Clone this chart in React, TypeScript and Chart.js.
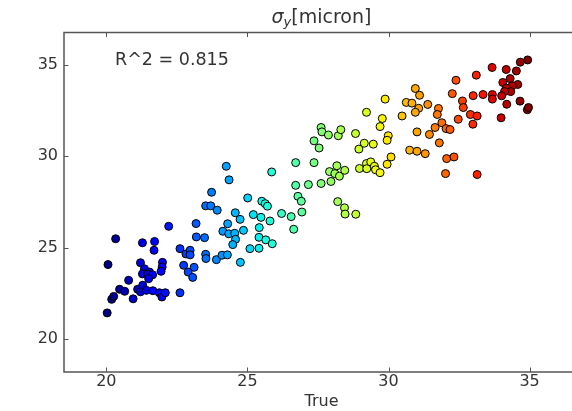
import React, { useEffect, useRef } from 'react';
import { Chart, registerables } from 'chart.js';

Chart.register(...registerables);

// True (x) values, grouped by colour band
const trueValues: number[] = [
  20.03, 20.19, 20.26, 20.47, 20.65, 20.79, 20.95, 21.11, 21.29, 21.21,
  21.42, 21.65, 21.88, 21.97, 22.09, 22.61, 20.06, 21.21, 21.99, 21.98,
  21.94, 21.35, 21.53, 21.28, 21.47, 21.64, 21.5, 22.74, 23.11, 22.9,
  23.06, 20.33, 21.28, 21.71, 21.69, 22.61, 22.82, 22.97, 22.97, 23.52,
  23.53, 23.9, 24.1, 24.29, 22.21, 23.18, 23.19, 23.48, 23.52, 23.7,
  23.93, 23.73, 24.25, 24.35, 24.57, 24.74, 24.3, 24.13, 24.34, 24.55,
  24.86, 24.58, 24.48, 24.75,
  25.01, 25.51, 25.63, 25.71, 25.21, 25.48, 25.8, 25.42, 25.41, 25.65,
  25.88, 25.09, 25.41, 25.86, 26.21, 26.55, 26.64, 26.71, 27.36, 26.71,
  27.16, 27.61, 27.96, 26.79, 26.91, 26.93, 27.61, 27.64, 27.87, 28.22,
  28.31, 27.36, 27.54, 28.17, 27.91, 28.1, 28.26, 28.45, 28.2, 28.44,
  28.46, 28.84,
  28.83, 29.22, 29.14, 29.46, 28.95, 29.88, 29.78, 29.7, 29.99, 29.95,
  28.97, 29.22, 29.23, 29.37, 29.5, 29.54, 29.7, 29.95, 30.09,
  30.95, 31.1, 30.63, 30.83, 31.07, 31.39, 30.95, 30.48, 31.77, 31.73,
  31.01, 31.45, 31.89, 32.04, 31.65, 32.18, 31.8, 30.75, 31.01, 31.3,
  32.06, 32.32, 32.02,
  33.14, 32.39, 32.26, 32.62, 32.65, 32.47, 33.0, 33.35, 33.68, 33.68,
  32.9, 33.14, 32.99, 33.11, 33.67, 33.99, 34.17, 34.53, 34.31, 34.05,
  34.58, 34.38, 34.17, 34.33, 34.11, 34.01, 34.19, 34.66, 34.92, 34.96,
  34.67, 34.93,
];

// Predicted (y) values, same order
const predictedValues: number[] = [
  21.43, 22.17, 22.33, 22.72, 22.61, 23.21, 22.2, 22.72, 22.94, 22.58,
  22.66, 22.64, 22.53, 22.3, 22.53, 22.53, 24.07, 24.17, 24.19, 23.94,
  23.7, 23.84, 23.66, 23.56, 23.54, 23.51, 23.3, 24.03, 23.92, 23.66,
  23.37, 25.48, 25.26, 25.33, 24.85, 24.94, 24.65, 24.85, 24.6, 24.63,
  24.4, 24.34, 24.58, 24.6, 26.16, 26.31, 25.58, 25.54, 27.28, 27.28,
  27.04, 28.02, 29.44, 28.7, 26.9, 26.54, 26.3, 25.89, 25.75, 25.78,
  25.94, 25.45, 25.16, 24.19,
  27.71, 27.53, 27.4, 27.26, 26.8, 26.65, 26.45, 26.09, 25.56, 25.42,
  25.21, 24.94, 24.96, 29.13, 26.86, 26.69, 26.0, 29.64, 29.64, 28.4,
  28.44, 28.5, 28.61, 27.8, 27.53, 26.94, 31.56, 31.32, 31.15, 31.11,
  31.44, 30.83, 30.44, 29.47, 29.15, 29.04, 28.9, 29.22, 27.51, 27.17,
  26.83, 26.82,
  31.23, 32.39, 30.7, 30.65, 30.38, 33.11, 32.05, 31.61, 31.11, 30.86,
  29.32, 29.59, 29.31, 29.68, 29.44, 29.25, 29.09, 29.55, 29.95,
  33.69, 33.32, 32.93, 32.89, 32.61, 32.82, 32.39, 32.19, 32.6, 32.27,
  31.32, 31.18, 31.82, 31.5, 31.56, 31.45, 30.72, 30.32, 30.26, 30.13,
  29.86, 29.95, 29.04,
  28.99, 34.14, 33.41, 33.01, 32.65, 32.01, 33.3, 33.36, 33.36, 33.11,
  32.27, 32.19, 31.74, 34.42, 34.84, 32.09, 34.73, 34.65, 34.23, 34.02,
  33.91, 33.84, 33.71, 33.52, 33.52, 33.29, 32.83, 33.0, 32.53, 32.65,
  35.13, 35.25,
];

const xTickValues = [20, 25, 30, 35];
const yTickValues = [20, 25, 30, 35];
const xLimits = [18.5, 36.75];
const yLimits = [18.2, 36.75];

const titleSymbol = 'σ';
const titleSubscript = 'y';
const titleUnit = '[micron]';
const xAxisLabel = 'True';
const scoreText = 'R^2 = 0.815';

const FONT = "'DejaVu Sans', sans-serif";
const TEXT_COLOR = '#333333';
const SPINE_COLOR = '#555555';

// matplotlib "jet" segment data
const jetRed: [number, number][] = [[0, 0], [0.35, 0], [0.66, 1], [0.89, 1], [1, 0.5]];
const jetGreen: [number, number][] = [[0, 0], [0.125, 0], [0.375, 1], [0.64, 1], [0.91, 0], [1, 0]];
const jetBlue: [number, number][] = [[0, 0.5], [0.11, 1], [0.34, 1], [0.65, 0], [1, 0]];

function seg(pts: [number, number][], t: number): number {
  for (let i = 1; i < pts.length; i++) {
    if (t <= pts[i][0]) {
      const [x0, y0] = pts[i - 1];
      const [x1, y1] = pts[i];
      return y0 + ((t - x0) / (x1 - x0)) * (y1 - y0);
    }
  }
  return pts[pts.length - 1][1];
}

function jet(t: number): string {
  const c = (v: number) => Math.round(255 * Math.max(0, Math.min(1, v)));
  return `rgb(${c(seg(jetRed, t))},${c(seg(jetGreen, t))},${c(seg(jetBlue, t))})`;
}

const framePlugin = {
  id: 'frame',
  afterDraw(chart: any) {
    const { ctx, chartArea, scales } = chart;
    const { left, right, top, bottom } = chartArea;
    ctx.save();
    ctx.strokeStyle = SPINE_COLOR;
    ctx.lineWidth = 1.5;
    ctx.strokeRect(left, top, right - left, bottom - top);
    ctx.lineWidth = 1;
    const tl = 4.5;
    ctx.beginPath();
    xTickValues.forEach((v) => {
      const px = Math.round(scales.x.getPixelForValue(v)) + 0.5;
      ctx.moveTo(px, bottom);
      ctx.lineTo(px, bottom - tl);
      ctx.moveTo(px, top);
      ctx.lineTo(px, top + tl);
    });
    yTickValues.forEach((v) => {
      const py = Math.round(scales.y.getPixelForValue(v)) + 0.5;
      ctx.moveTo(left, py);
      ctx.lineTo(left + tl, py);
      ctx.moveTo(right, py);
      ctx.lineTo(right - tl, py);
    });
    ctx.stroke();

    // title: sigma_y [micron]
    ctx.fillStyle = TEXT_COLOR;
    ctx.textBaseline = 'alphabetic';
    const mainFont = `19px ${FONT}`;
    const italFont = `italic 19px ${FONT}`;
    const subFont = `italic 13px ${FONT}`;
    ctx.font = italFont;
    const w1 = ctx.measureText(titleSymbol).width;
    ctx.font = subFont;
    const w2 = ctx.measureText(titleSubscript).width;
    ctx.font = mainFont;
    const w3 = ctx.measureText(titleUnit).width;
    const total = w1 + w2 + w3;
    const cx = (left + right) / 2;
    let x0 = cx - total / 2;
    const baseY = 23;
    ctx.textAlign = 'left';
    ctx.font = italFont;
    ctx.fillText(titleSymbol, x0, baseY);
    x0 += w1;
    ctx.font = subFont;
    ctx.fillText(titleSubscript, x0, baseY + 3);
    x0 += w2;
    ctx.font = mainFont;
    ctx.fillText(titleUnit, x0, baseY);

    // R^2 annotation
    ctx.font = `17.5px ${FONT}`;
    ctx.textBaseline = 'middle';
    ctx.fillText(scoreText, left + 51, top + 28);
    ctx.restore();
  },
};

export default function App() {
  const ref = useRef<HTMLCanvasElement>(null);

  useEffect(() => {
    if (!ref.current) return;
    const lo = Math.min(...trueValues);
    const hi = Math.max(...trueValues);
    const colors = trueValues.map((v) => jet((v - lo) / (hi - lo)));
    const points = trueValues.map((x, i) => ({ x, y: predictedValues[i] }));

    const chart = new Chart(ref.current, {
      type: 'scatter',
      data: {
        datasets: [
          {
            data: points,
            backgroundColor: colors,
            borderColor: '#000000',
            borderWidth: 1,
            pointRadius: 4,
            pointHoverRadius: 4,
          },
        ],
      },
      options: {
        responsive: false,
        animation: false,
        events: [],
        layout: { padding: { top: 32.5, right: 0, bottom: 0, left: 0 } },
        plugins: {
          legend: { display: false },
          tooltip: { enabled: false },
          title: { display: false },
        },
        scales: {
          x: {
            type: 'linear',
            min: xLimits[0],
            max: xLimits[1],
            afterBuildTicks: (s: any) => {
              s.ticks = xTickValues.map((v) => ({ value: v }));
            },
            afterFit: (s: any) => {
              s.height = 39;
            },
            grid: { display: false, drawTicks: false },
            border: { display: false },
            ticks: {
              padding: 0,
              color: TEXT_COLOR,
              font: { family: FONT, size: 16 },
            },
            title: {
              display: true,
              text: xAxisLabel,
              color: TEXT_COLOR,
              font: { family: FONT, size: 16 },
              padding: { top: 0, bottom: 0 },
            },
          },
          y: {
            type: 'linear',
            min: yLimits[0],
            max: yLimits[1],
            afterBuildTicks: (s: any) => {
              s.ticks = yTickValues.map((v) => ({ value: v }));
            },
            afterFit: (s: any) => {
              s.width = 64;
            },
            grid: { display: false, drawTicks: false },
            border: { display: false },
            ticks: {
              padding: 6,
              color: TEXT_COLOR,
              font: { family: FONT, size: 16 },
            },
          },
        },
      } as any,
      plugins: [framePlugin],
    });
    return () => chart.destroy();
  }, []);

  return (
    <div
      style={{
        position: 'fixed',
        left: 0,
        top: 0,
        width: 572,
        height: 411,
        overflow: 'hidden',
        background: '#ffffff',
      }}
    >
      <canvas ref={ref} width={584} height={411} style={{ display: 'block', width: 584, height: 411 }} />
    </div>
  );
}
